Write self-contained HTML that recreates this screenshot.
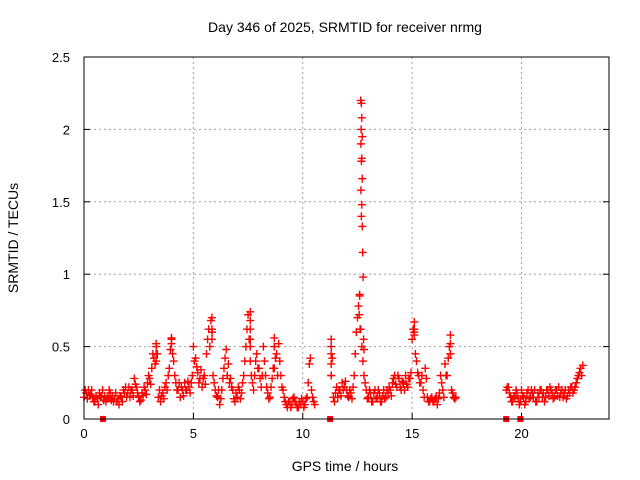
<!DOCTYPE html>
<html><head><meta charset="utf-8"><style>
body{margin:0;background:#fff}
svg{display:block;font-family:"Liberation Sans",sans-serif}
</style></head><body>
<svg id="chart" width="640" height="480">
<text x="345" y="32" text-anchor="middle" font-size="14">Day 346 of 2025, SRMTID for receiver nrmg</text>
<text x="345" y="471" text-anchor="middle" font-size="14">GPS time / hours</text>
<text transform="translate(18,238) rotate(-90)" text-anchor="middle" font-size="14">SRMTID / TECUs</text>
<g id="grid"></g><g id="marks"></g><g id="axes"></g>
</svg>
<script>
const xTicks=[0,5,10,15,20];
const yTicks=[0,0.5,1,1.5,2,2.5];
const yTickLabels=["0","0.5","1","1.5","2","2.5"];
const baseValues=[
0.15,0.18,0.2,0.17,0.15,0.12,0.14,0.18,0.16,0.13,
0.12,0.15,0.18,0.16,0.14,0.12,0.1,0.15,0.2,0.22,
0.18,0.15,0.2,0.28,0.22,0.15,0.13,0.16,0.2,0.25,
0.28,0.35,0.42,0.5,0.15,0.12,0.18,0.22,0.2,0.35,
0.55,0.4,0.25,0.2,0.15,0.2,0.25,0.2,0.22,0.25,
0.5,0.42,0.32,0.28,0.22,0.3,0.45,0.62,0.68,0.3,
0.2,0.15,0.1,0.2,0.35,0.48,0.38,0.28,0.2,0.12,
0.15,0.2,0.18,0.3,0.5,0.72,0.4,0.25,0.3,0.45,
0.35,0.22,0.5,0.3,0.18,0.15,0.28,0.35,0.45,0.52,
0.3,0.2,0.12,0.08,0.12,0.1,0.15,0.1,0.08,0.1,
0.12,0.1,0.15,0.38,0.2,0.12,null,null,null,null,
null,null,null,0.3,0.15,0.18,0.15,0.2,0.25,0.22,
0.2,0.15,0.18,0.22,0.45,0.7,0.85,0.5,0.3,0.2,
0.15,0.18,0.12,0.2,0.15,0.18,0.12,0.2,0.15,0.18,
0.2,0.25,0.3,0.22,0.28,0.2,0.25,0.3,0.22,0.28,
0.55,0.6,0.4,0.3,0.25,0.2,0.35,0.15,0.12,0.15,
0.12,0.15,0.14,0.3,0.2,0.38,0.3,0.5,0.2,0.15,
0.15,null,null,null,null,null,null,null,null,null,
null,null,null,null,null,null,null,null,null,null,
null,null,null,0.2,0.22,0.15,0.12,0.15,0.18,0.1,
0.2,0.15,0.12,0.2,0.15,0.18,0.2,0.12,0.15,0.2,
0.18,0.15,0.2,0.22,0.18,0.15,0.2,0.22,0.18,0.15,
0.2,0.16,0.18,0.22,0.2,0.25,0.3,0.35,0.37,null];
const midValues=[
0.2,0.14,0.16,0.2,0.12,0.16,0.1,0.15,0.2,0.16,
0.14,0.2,0.13,0.12,0.18,0.14,0.16,0.12,0.18,0.15,
0.22,0.2,0.16,0.24,0.18,0.12,0.18,0.22,0.17,0.3,
0.24,0.45,0.38,0.45,0.2,0.16,0.14,0.25,0.3,0.48,
0.45,0.3,0.2,0.25,0.22,0.16,0.2,0.26,0.18,0.3,
0.4,0.36,0.25,0.34,0.28,0.24,0.55,0.5,0.6,0.25,
0.16,0.2,0.14,0.28,0.42,0.3,0.25,0.22,0.14,0.18,
0.22,0.14,0.25,0.4,0.62,0.55,0.3,0.2,0.4,0.35,
0.28,0.3,0.4,0.22,0.14,0.22,0.35,0.42,0.3,0.4,
0.22,0.15,0.1,0.12,0.08,0.14,0.12,0.08,0.12,0.14,
0.08,0.14,0.25,0.42,0.15,0.1,null,null,null,null,
null,null,null,0.42,0.12,0.22,0.2,0.16,0.2,0.26,
0.16,0.2,0.14,0.3,0.6,0.78,0.62,0.4,0.25,0.14,
0.2,0.12,0.18,0.14,0.2,0.12,0.16,0.14,0.2,0.22,
0.16,0.28,0.24,0.3,0.22,0.26,0.2,0.24,0.28,0.32,
0.62,0.45,0.32,0.25,0.3,0.15,0.28,0.12,0.14,0.12,
0.14,0.1,0.18,0.25,0.15,0.3,0.42,0.45,0.18,0.14,
null,null,null,null,null,null,null,null,null,null,
null,null,null,null,null,null,null,null,null,null,
null,null,null,0.22,0.18,0.12,0.16,0.2,0.14,0.12,
0.16,0.1,0.18,0.14,0.2,0.15,0.12,0.18,0.2,0.15,
0.12,0.2,0.16,0.2,0.14,0.2,0.16,0.15,0.2,0.18,
0.14,0.2,0.22,0.18,0.22,0.28,0.32,0.3,null,null];
const peakTimes=[12.65,12.68,12.7,12.67,12.72,12.66,12.7,12.68,12.72,12.66,12.7,12.68,12.72,12.74,12.76,12.6,12.58,12.62,12.78,12.8,11.3,11.3,11.3,11.3,11.3,7.6,7.6,7.6,7.6,7.6,3.3,3.3,3.3,5.85,5.85,5.85,15.1,15.1,15.1,16.75,16.75,16.75,8.7,8.7,4.0,4.0];
const peakValues=[2.2,2.18,2.08,2.0,1.95,1.9,1.8,1.78,1.66,1.58,1.48,1.4,1.33,1.15,0.98,0.86,0.72,0.62,0.55,0.48,0.55,0.5,0.45,0.38,0.3,0.74,0.68,0.62,0.55,0.5,0.52,0.45,0.4,0.7,0.62,0.55,0.67,0.62,0.58,0.58,0.52,0.45,0.56,0.5,0.56,0.52];
const zeroTimes=[0.87,11.25,19.3,19.95];

const X0=84,X1=609,Y0=419,Y1=57;
const xs=t=>X0+(t/24)*(X1-X0);
const ys=v=>Y0-(v/2.5)*(Y0-Y1);
const NS="http://www.w3.org/2000/svg";
function mk(tag,attrs,parent){const e=document.createElementNS(NS,tag);for(const k in attrs)e.setAttribute(k,attrs[k]);parent.appendChild(e);return e;}
const grid=document.getElementById('grid'),marks=document.getElementById('marks'),axes=document.getElementById('axes');
xTicks.forEach((t,i)=>{
  const x=xs(t);
  if(t>0){const g=mk('line',{x1:x,x2:x,y1:Y1,y2:Y0,stroke:'#a0a0a0','stroke-dasharray':'2,3'},grid);
  
  }
  const tk=mk('line',{x1:x,x2:x,y1:Y0,y2:Y0-6,stroke:'#000'},axes);
  
  
  const lb=mk('text',{x:x,y:Y0+19,'text-anchor':'middle','font-size':13},axes);
  lb.textContent=String(t);
  
  
});
yTicks.forEach((v,i)=>{
  const y=ys(v);
  if(v>0&&v<2.5){const g=mk('line',{x1:X0,x2:X1,y1:y,y2:y,stroke:'#a0a0a0','stroke-dasharray':'2,3'},grid);
  
  }
  const tk=mk('line',{x1:X0,x2:X0+6,y1:y,y2:y,stroke:'#000'},axes);
  
  
  const tk2=mk('line',{x1:X1,x2:X1-6,y1:y,y2:y,stroke:'#000'},axes);
  
  
  const lb=mk('text',{x:X0-14,y:y+5,'text-anchor':'end','font-size':13},axes);
  lb.textContent=yTickLabels[i];
  
  
});
const frame=mk('rect',{x:X0,y:Y1,width:X1-X0,height:Y0-Y1,fill:'none',stroke:'#000'},axes);


function cross(t,v){
  const x=xs(t),y=ys(v);
  const p=mk('path',{d:`M${x-4},${y}H${x+4}M${x},${y-4}V${y+4}`,stroke:'#ff0000','stroke-width':1.4,fill:'none'},marks);
  
  
}
baseValues.forEach((v,i)=>{if(v!==null)cross(i*0.1,v);});
midValues.forEach((v,i)=>{if(v!==null)cross(i*0.1+0.05,v);});
peakTimes.forEach((t,i)=>cross(t,peakValues[i]));
zeroTimes.forEach(t=>{
  const r=mk('rect',{x:xs(t)-3,y:Y0-3,width:6,height:6,fill:'#ff0000'},marks);
  
  
});
</script>
</body></html>
